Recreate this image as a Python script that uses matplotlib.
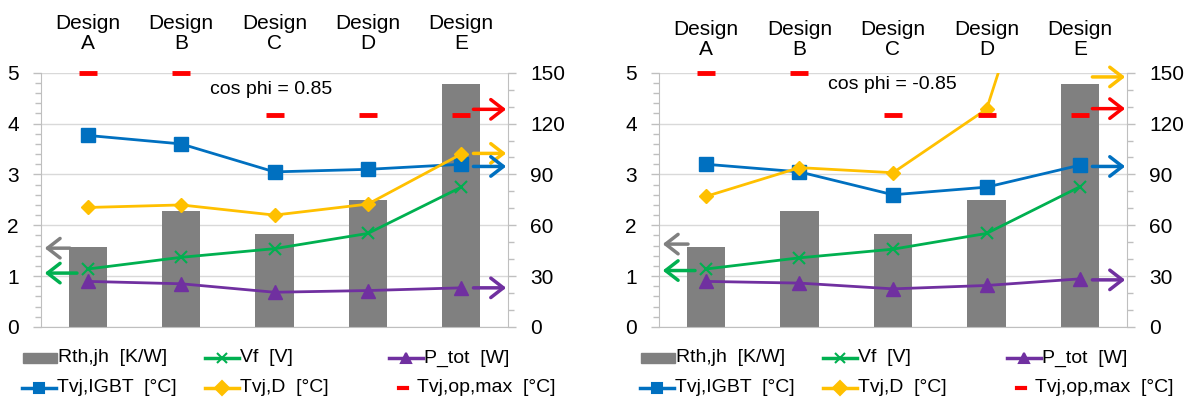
import matplotlib.pyplot as plt
from matplotlib.lines import Line2D
from matplotlib.patches import Rectangle
from matplotlib.ticker import MultipleLocator
import matplotlib.transforms as mtransforms

# office palette
GREY = "#808080"
GREEN = "#00B050"
PURPLE = "#7030A0"
BLUE = "#0070C0"
GOLD = "#FFC000"
RED = "#FF0000"
AXIS_GREY = "#BFBFBF"
GRID_GREY = "#D9D9D9"

plt.rcParams.update(
    {
        "font.family": ["Liberation Sans", "DejaVu Sans"],
        "font.size": 14,
    }
)

designs = ["A", "B", "C", "D", "E"]

# thermal resistance per design, same for both load cases
rth_jh = [1.58, 2.28, 1.82, 2.49, 4.78]

# cos phi = 0.85
vf_pos = [1.14, 1.37, 1.54, 1.84, 2.75]
p_tot_pos = [26.9, 25.5, 20.5, 21.5, 23.1]
tvj_igbt_pos = [113, 108, 91.5, 93, 96]
tvj_d_pos = [70.5, 72, 66, 72.5, 102]

# cos phi = -0.85
vf_neg = [1.14, 1.36, 1.53, 1.84, 2.76]
p_tot_neg = [26.9, 25.9, 22.5, 24.5, 28.4]
tvj_igbt_neg = [96, 91.5, 78, 82.5, 95.5]
tvj_d_neg = [77, 94, 91, 128.5, 300]

tvj_op_max = [150, 150, 125, 125, 125]

# axis hint arrows: (colour, level)
left_arrows_pos = [(GREY, 1.55), (GREEN, 1.06)]
right_arrows_pos = [(RED, 128.4), (GOLD, 102.4), (BLUE, 94.7), (PURPLE, 23.1)]
left_arrows_neg = [(GREY, 1.63), (GREEN, 1.11)]
right_arrows_neg = [(GOLD, 147.5), (RED, 128.8), (BLUE, 94.7), (PURPLE, 27.8)]

panels = [
    {"x0": 41, "x1": 508, "title": "cos phi = 0.85", "title_xy": (1.96, 4.66), "label_y": 1.155,
     "vf": vf_pos, "p_tot": p_tot_pos, "igbt": tvj_igbt_pos, "diode": tvj_d_pos,
     "left_arrows": left_arrows_pos, "right_arrows": right_arrows_pos},
    {"x0": 659, "x1": 1127, "title": "cos phi = -0.85", "title_xy": (1.99, 4.76), "label_y": 1.131,
     "vf": vf_neg, "p_tot": p_tot_neg, "igbt": tvj_igbt_neg, "diode": tvj_d_neg,
     "left_arrows": left_arrows_neg, "right_arrows": right_arrows_neg},
]

W, H = 1190, 403
fig = plt.figure(figsize=(W / 100, H / 100), dpi=100)

y_top, y_bot = 72.7, 327
x = list(range(len(designs)))


def style_axis(axis, side):
    axis.tick_params(axis="y", which="major", length=6, width=1, color=AXIS_GREY,
                     labelsize=15, pad=10, direction="out")
    axis.tick_params(axis="y", which="minor", length=4.3, width=1, color=AXIS_GREY, direction="out")
    axis.tick_params(axis="x", length=0, labelbottom=False)
    for s in ["top", "left", "right", "bottom"]:
        axis.spines[s].set_visible(False)
    axis.spines[side].set_visible(True)
    axis.spines[side].set_color(AXIS_GREY)


def arrow(axis, y, color, tail, tip):
    axis.annotate("", xy=(tip, y), xytext=(tail, y), annotation_clip=False,
                  arrowprops=dict(arrowstyle="->,head_length=0.45,head_width=0.35",
                                  mutation_scale=20, lw=2.5, color=color,
                                  shrinkA=0, shrinkB=0))


def legend_entry(px, py, label, color, marker=None, kind="line"):
    fy = 1 - py / H
    if kind == "patch":
        fig.add_artist(Rectangle((px / W, fy - 5 / H), 34 / W, 10 / H,
                                 transform=fig.transFigure, color=color))
        tx = px + 35
    elif kind == "dash":
        fig.add_artist(Line2D([(px + 10) / W, (px + 18) / W], [fy, fy],
                              transform=fig.transFigure, color=color, lw=3))
        tx = px + 28
    else:
        fig.add_artist(Line2D([px / W, (px + 34) / W], [fy, fy],
                              transform=fig.transFigure, color=color, lw=2.5))
        fig.add_artist(Line2D([(px + 17) / W], [fy], transform=fig.transFigure,
                              color=color, marker=marker, ms=7, mew=1.5, ls="none"))
        tx = px + 35
    fig.text(tx / W, fy, label, fontsize=14, va="center", ha="left")


for p in panels:
    rect = [p["x0"] / W, 1 - y_bot / H, (p["x1"] - p["x0"]) / W, (y_bot - y_top) / H]
    ax = fig.add_axes(rect)
    ax2 = ax.twinx()

    ax.bar(x, rth_jh, width=0.41, color=GREY, zorder=2)
    ax.plot(x, p["vf"], color=GREEN, lw=2, marker="x", ms=9, mew=1.5, zorder=3)

    ax2.plot(x, p["igbt"], color=BLUE, lw=2, marker="s", ms=10)
    ax2.plot(x, p["diode"], color=GOLD, lw=2, marker="D", ms=7.5)
    ax2.plot(x, p["p_tot"], color=PURPLE, lw=2, marker="^", ms=9.5)
    ax2.plot(x, tvj_op_max, ls="none", marker="_", ms=13, mew=3.5, color=RED, clip_on=False)

    ax.set_xlim(-0.5, 4.5)
    ax.set_ylim(0, 5)
    ax2.set_ylim(0, 150)
    ax.yaxis.set_major_locator(MultipleLocator(1))
    ax.yaxis.set_minor_locator(MultipleLocator(0.2))
    ax2.yaxis.set_major_locator(MultipleLocator(30))
    ax2.yaxis.set_minor_locator(MultipleLocator(10))
    ax.grid(axis="y", color=GRID_GREY, lw=1)
    ax.set_axisbelow(True)
    style_axis(ax, "left")
    style_axis(ax2, "right")
    ax.spines["bottom"].set_visible(True)
    ax.spines["bottom"].set_color(AXIS_GREY)

    # design names above the plot area
    trans = mtransforms.blended_transform_factory(ax.transData, ax.transAxes)
    for i, d in enumerate(designs):
        ax.text(i, p["label_y"], f"Design\n{d}", transform=trans, ha="center", va="center",
                fontsize=15, linespacing=1.1)

    tx, ty = p["title_xy"]
    ax.text(tx, ty, p["title"], ha="center", va="center", fontsize=14, zorder=5)

    for color, level in p["left_arrows"]:
        tail = -0.19 if color == GREY else -0.115
        arrow(ax, level, color, tail, -0.46)
    for color, level in p["right_arrows"]:
        arrow(ax2, level, color, 4.13, 4.48)

    # legend, two rows of three
    base = p["x0"]
    legend_entry(base - 18, 358, "Rth,jh  [K/W]", GREY, kind="patch")
    legend_entry(base + 164, 358, "Vf  [V]", GREEN, marker="x")
    legend_entry(base + 348, 358, "P_tot  [W]", PURPLE, marker="^")
    legend_entry(base - 19, 388, "Tvj,IGBT  [°C]", BLUE, marker="s")
    legend_entry(base + 164, 388, "Tvj,D  [°C]", GOLD, marker="D")
    legend_entry(base + 348, 388, "Tvj,op,max  [°C]", RED, kind="dash")

plt.savefig("out.png", dpi=100)
